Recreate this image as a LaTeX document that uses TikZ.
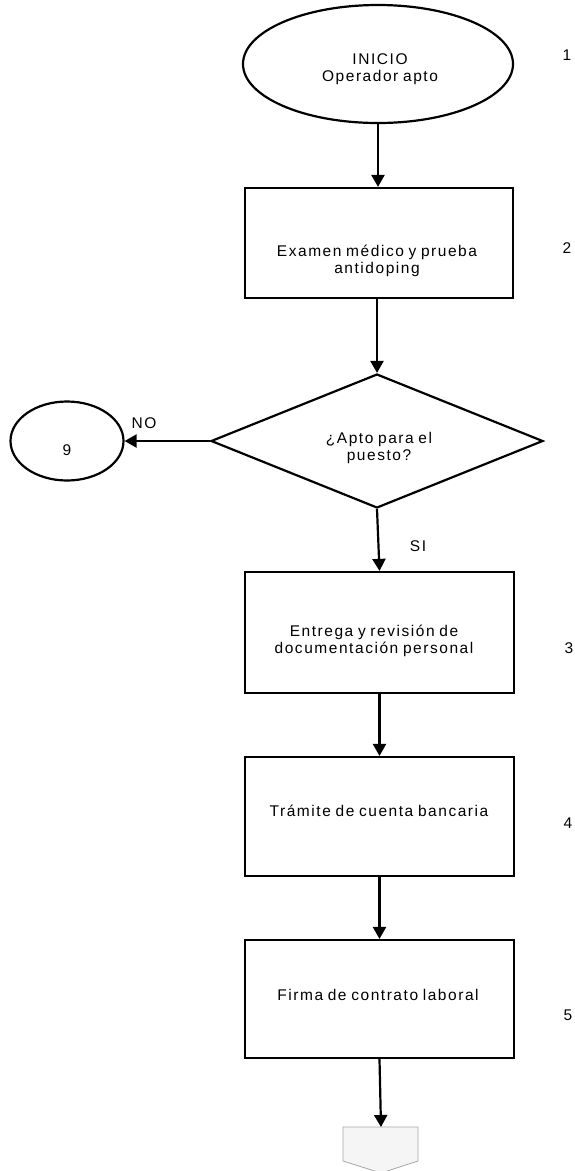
\documentclass[tikz,border=0pt]{standalone}
\usepackage{fontspec}
\setmainfont{Liberation Sans}[LetterSpace=10,WordSpace=0.8]
\usetikzlibrary{arrows.meta,shapes.geometric}
\begin{document}
\begin{tikzpicture}[x=1pt,y=-1pt,
  every node/.style={font=\fontsize{15.5}{16.5}\selectfont},
  outline/.style={draw=black,line width=2.2pt},
  procbox/.style={outline,rectangle,minimum width=269pt,minimum height=119pt,inner sep=0pt},
  txt/.style={align=center,inner sep=0pt},
  flow/.style={line width=2.2pt,-{Triangle[width=13pt,length=12pt]}},
  numlab/.style={inner sep=0pt}]
\useasboundingbox (0,0) rectangle (574,1171);

% start terminal
\node[outline,ellipse,minimum width=270pt,minimum height=118pt,inner sep=0pt] (start) at (378,64) {};
\node[txt] (starttxt) at (380,69) {INICIO\\Operador apto};
\node[numlab] (n1) at (567,55) {1};

% medical exam
\node[procbox,minimum width=268pt,minimum height=110pt] (exam) at (379,243) {};
\node[txt] (examtxt) at (377,261) {Examen médico y prueba\\antidoping};
\node[numlab] (n2) at (567,248) {2};

% decision
\node[outline,diamond,minimum width=332pt,minimum height=134pt,inner sep=0pt] (apt) at (377,441) {};
\node[txt] (apttxt) at (379,448) {¿Apto para el\\puesto?};

% connector 9
\node[outline,ellipse,minimum width=113pt,minimum height=79pt,inner sep=0pt] (nine) at (67,441) {};
\node[txt] (ninetxt) at (67,450) {9};

% documents
\node[procbox,minimum height=121pt] (docs) at (379.5,632.5) {};
\node[txt] (docstxt) at (374,641) {Entrega y revisión de\\documentación personal};
\node[numlab] (n3) at (569,648) {3};

% bank account
\node[procbox] (bank) at (379.5,816.5) {};
\node[txt] (banktxt) at (379,811) {Trámite de cuenta bancaria};
\node[numlab] (n4) at (568,823) {4};

% contract
\node[procbox,minimum height=118pt] (contract) at (379.5,999) {};
\node[txt] (contracttxt) at (378,995) {Firma de contrato laboral};
\node[numlab] (n5) at (568,1015) {5};

% off-page connector
\coordinate (offtop) at (381,1127);
\draw[fill=gray!8,draw=gray!70,line width=0.8pt]
  (343,1127) -- (418,1127) -- (418,1161) -- (381,1173) -- (343,1161) -- cycle;

% connectors
\draw[flow] (start.south) -- (start.south |- exam.north);
\draw[flow] (apt.north |- exam.south) -- (apt.north);
\draw[flow] (apt.west) -- (nine.east);
\draw[flow] (apt.south) -- (docs.north);
\draw[flow] (docs.south) -- (bank.north);
\draw[flow] (bank.south) -- (contract.north);
\draw[flow] (contract.south) -- (offtop);

% branch labels
\node[numlab] (nolab) at (144,423) {NO};
\node[numlab] (silab) at (418,546) {SI};
\end{tikzpicture}
\end{document}
